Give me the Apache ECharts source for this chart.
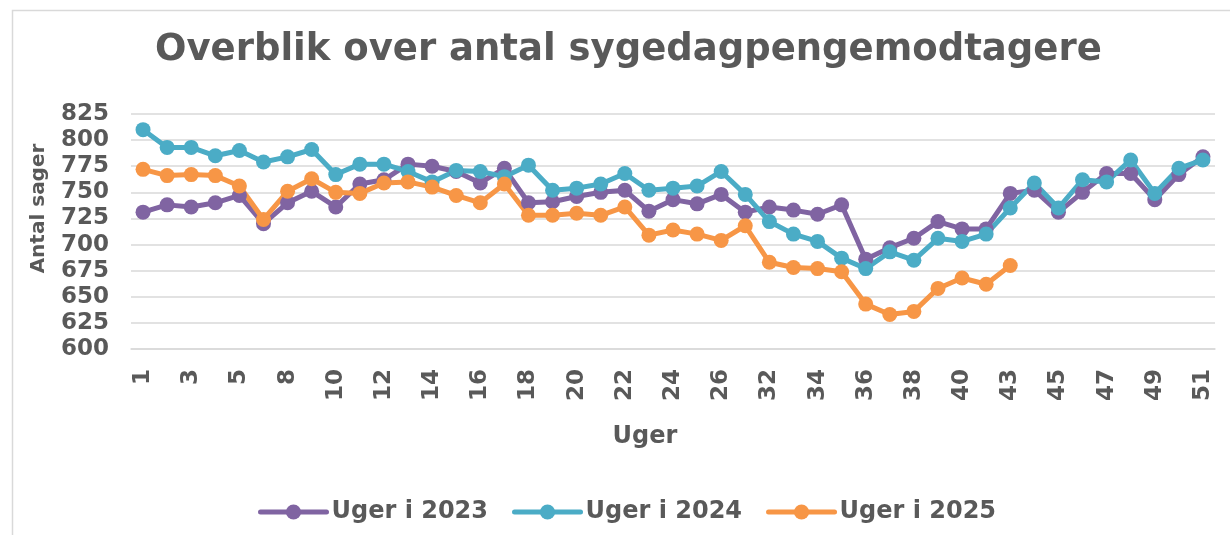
<!DOCTYPE html>
<html>
<head>
<meta charset="utf-8">
<title>Overblik over antal sygedagpengemodtagere</title>
<script src="https://cdn.jsdelivr.net/npm/echarts@6/dist/echarts.min.js"></script>
<style>
  html, body { margin: 0; padding: 0; background: #ffffff; }
  #chart { width: 1230px; height: 535px; }
</style>
</head>
<body>
<div id="chart"></div>
<script>
// uger (kategorier) - kun hver anden vises som label
const weeks = ['1', '2', '3', '4', '5', '6', '8', '9', '10', '11', '12', '13', '14', '15', '16',
  '17', '18', '19', '20', '21', '22', '23', '24', '25', '26', '31', '32', '33', '34', '35', '36',
  '37', '38', '39', '40', '41', '43', '44', '45', '46', '47', '48', '49', '50', '51']

const uger2023 = [731, 738, 736, 740, 747, 720, 740, 751, 736, 758, 762, 777, 775, 770, 759,
  773, 740, 741, 746, 750, 752, 732, 743, 739, 748, 731, 736, 733, 729, 738, 686,
  697, 706, 722, 715, 715, 749, 752, 731, 750, 768, 768, 743, 767, 784]

const uger2024 = [810, 793, 793, 785, 790, 779, 784, 791, 767, 777, 777, 770, 760, 771, 770,
  765, 776, 752, 754, 758, 768, 752, 754, 756, 770, 748, 722, 710, 703, 687, 677,
  693, 685, 706, 703, 710, 735, 759, 735, 762, 760, 781, 749, 773, 781]

const uger2025 = [772, 766, 767, 766, 756, 724, 751, 763, 750, 749, 759, 760, 755, 747, 740,
  758, 728, 728, 730, 728, 736, 709, 714, 710, 704, 718, 683, 678, 677, 674, 643,
  633, 636, 658, 668, 662, 680, null, null, null, null, null, null, null, null]

const seriesNames = ['Uger i 2023', 'Uger i 2024', 'Uger i 2025']
const colors = ['#8064a2', '#4bacc6', '#f79646']

const yTicks = { min: 600, max: 825, interval: 25 }

const textColor = '#595959'
const font = 'DejaVu Sans, Verdana, sans-serif'

const chart = echarts.init(document.getElementById('chart'), null, { renderer: 'canvas' })

const mkLine = (name, data, color) => ({
  name,
  type: 'line',
  data,
  symbol: 'circle',
  symbolSize: 15,
  showAllSymbol: true,
  connectNulls: false,
  lineStyle: { width: 5, color },
  itemStyle: { color },
  emphasis: { disabled: true }
})

const option = {
  backgroundColor: '#ffffff',
  animation: false,
  color: colors,
  graphic: [
    {
      // lys ramme om diagrammet
      type: 'rect',
      left: 10,
      top: 8,
      shape: { width: 1400, height: 700 },
      style: { fill: 'none', stroke: '#d9d9d9', lineWidth: 1.5 },
      z: -1
    }
  ],
  title: {
    text: 'Overblik over antal sygedagpengemodtagere',
    left: 150,
    top: 27,
    textStyle: { color: textColor, fontFamily: font, fontWeight: 'bold', fontSize: 37 }
  },
  legend: {
    data: seriesNames,
    left: 253,
    top: 495,
    itemWidth: 66,
    itemHeight: 19,
    itemGap: 24,
    lineStyle: { width: 5, cap: 'round' },
    textStyle: { color: textColor, fontFamily: font, fontWeight: 'bold', fontSize: 24 }
  },
  grid: {
    left: 131,
    right: 15,
    top: 114,
    bottom: 186,
    containLabel: false
  },
  xAxis: {
    type: 'category',
    data: weeks,
    boundaryGap: true,
    name: 'Uger',
    nameLocation: 'middle',
    nameGap: 76,
    nameTextStyle: {
      color: textColor,
      fontFamily: font,
      fontWeight: 'bold',
      fontSize: 24,
      padding: [0, 56, 0, 0]
    },
    axisLine: { lineStyle: { color: '#d9d9d9', width: 1.5 } },
    axisTick: { show: false },
    axisLabel: {
      interval: 1,
      rotate: 90,
      margin: 20,
      color: textColor,
      fontFamily: font,
      fontWeight: 'bold',
      fontSize: 23
    }
  },
  yAxis: {
    type: 'value',
    min: yTicks.min,
    max: yTicks.max,
    interval: yTicks.interval,
    name: 'Antal sager',
    nameLocation: 'middle',
    nameGap: 82,
    nameTextStyle: {
      color: textColor,
      fontFamily: font,
      fontWeight: 'bold',
      fontSize: 20,
      // flyt navnet lidt op, som i originalen
      padding: [0, 0, 0, 46]
    },
    axisLine: { show: false },
    axisTick: { show: false },
    axisLabel: {
      margin: 22,
      color: textColor,
      fontFamily: font,
      fontWeight: 'bold',
      fontSize: 23
    },
    splitLine: { lineStyle: { color: '#d9d9d9', width: 1.5 } }
  },
  series: [
    mkLine(seriesNames[0], uger2023, colors[0]),
    mkLine(seriesNames[1], uger2024, colors[1]),
    mkLine(seriesNames[2], uger2025, colors[2])
  ]
}

chart.setOption(option)
</script>
</body>
</html>
